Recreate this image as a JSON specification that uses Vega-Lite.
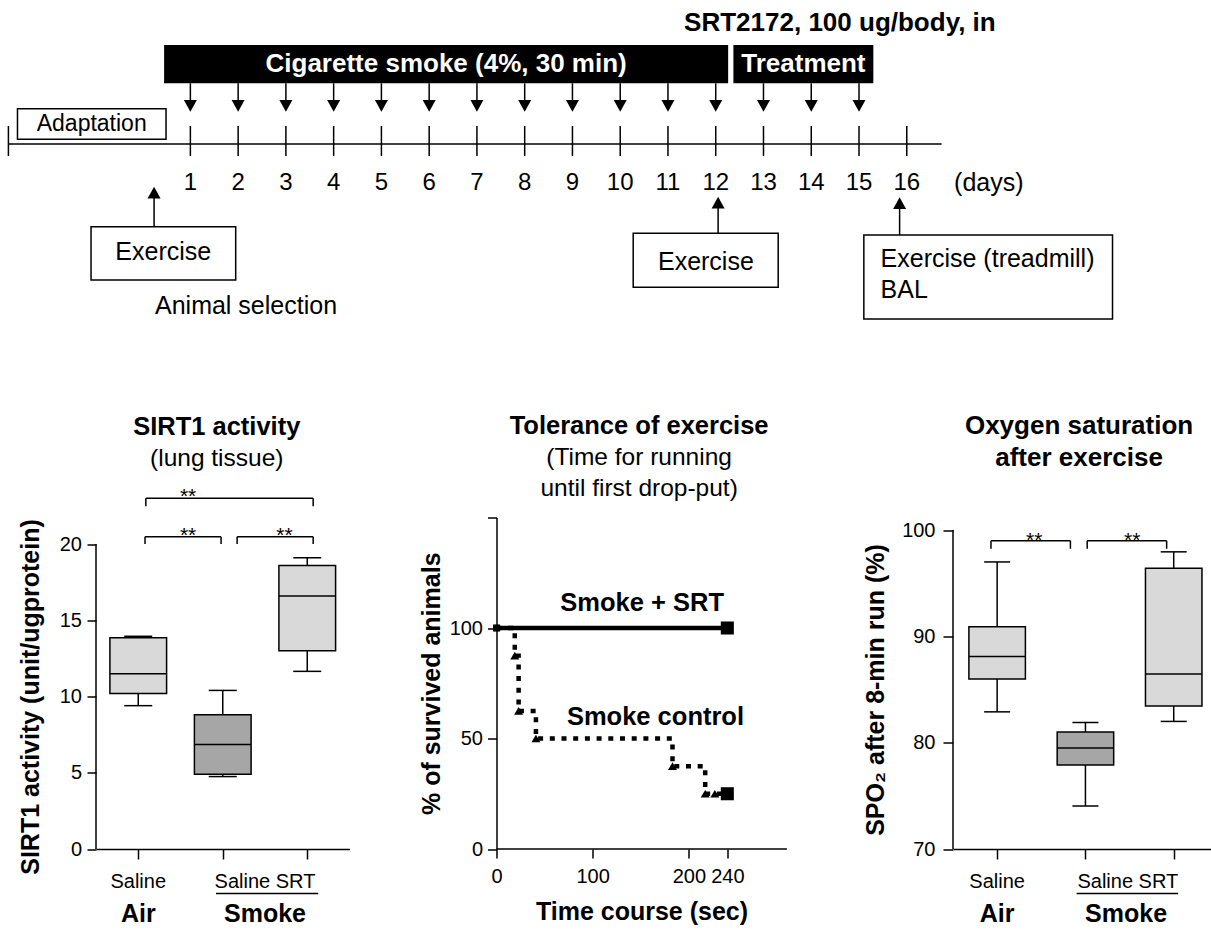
{
  "$schema": "https://vega.github.io/schema/vega-lite/v6.json",
  "background": "white",
  "padding": {"left": 7, "top": 0, "right": 0, "bottom": 0},
  "autosize": {"type": "pad"},
  "bounds": "flush",
  "spacing": 177.5,
  "config": {
    "view": {"stroke": null},
    "font": "Liberation Sans",
    "axis": {"domainColor": "black", "tickColor": "black", "domainWidth": 1.5, "tickWidth": 1.5, "labelColor": "black", "labelFontSize": 20, "grid": false, "titleColor": "black", "titleFontSize": 25, "titleFontWeight": "bold", "labelFlush": false, "labelOverlap": false},
    "title": {"color": "black", "anchor": "middle", "frame": "group", "fontSize": 25.5, "fontWeight": "bold", "subtitleColor": "black", "subtitleFontSize": 24.5, "subtitleFontWeight": "normal", "subtitleFont": "Liberation Sans"},
    "text": {"color": "black"}
  },
  "datasets": {
    "days": [{"day": 1}, {"day": 2}, {"day": 3}, {"day": 4}, {"day": 5}, {"day": 6}, {"day": 7}, {"day": 8}, {"day": 9}, {"day": 10}, {"day": 11}, {"day": 12}, {"day": 13}, {"day": 14}, {"day": 15}, {"day": 16}],
    "phases": [
      {"phase": "Cigarette smoke (4%, 30 min)", "start": 0.45, "end": 12.26},
      {"phase": "Treatment", "start": 12.37, "end": 15.3}
    ],
    "sirt1": [
      {"exposure": "Air", "treatment": "Saline", "group": "Air Saline", "idx": 1, "min": 9.4, "q1": 10.2, "median": 11.5, "q3": 13.85, "max": 13.95},
      {"exposure": "Smoke", "treatment": "Saline", "group": "Smoke Saline", "idx": 2, "min": 4.75, "q1": 4.9, "median": 6.85, "q3": 8.8, "max": 10.4},
      {"exposure": "Smoke", "treatment": "SRT", "group": "Smoke SRT", "idx": 3, "min": 11.65, "q1": 13.0, "median": 16.6, "q3": 18.6, "max": 19.1}
    ],
    "sirt1_sig": [
      {"from": 1.09, "to": 3.07, "top": 23.0, "leg": 22.47, "labelAt": 1.59, "label": "**"},
      {"from": 1.08, "to": 1.98, "top": 20.47, "leg": 20.0, "labelAt": 1.59, "label": "**"},
      {"from": 2.17, "to": 3.07, "top": 20.47, "leg": 20.0, "labelAt": 2.73, "label": "**"}
    ],
    "survival": [
      {"series": "Smoke control", "t": 0, "pct": 100},
      {"series": "Smoke control", "t": 19, "pct": 87.5},
      {"series": "Smoke control", "t": 23, "pct": 62.5},
      {"series": "Smoke control", "t": 41, "pct": 50},
      {"series": "Smoke control", "t": 183, "pct": 37.5},
      {"series": "Smoke control", "t": 217, "pct": 25},
      {"series": "Smoke control", "t": 240, "pct": 25},
      {"series": "Smoke + SRT", "t": 0, "pct": 100},
      {"series": "Smoke + SRT", "t": 240, "pct": 100}
    ],
    "survival_marks": [
      {"series": "Smoke + SRT", "t": 0, "pct": 100, "event": "start"},
      {"series": "Smoke + SRT", "t": 240, "pct": 100, "event": "end"},
      {"series": "Smoke control", "t": 0, "pct": 100, "event": "start"},
      {"series": "Smoke control", "t": 19, "pct": 87.5, "event": "step"},
      {"series": "Smoke control", "t": 23, "pct": 62.5, "event": "step"},
      {"series": "Smoke control", "t": 41, "pct": 50, "event": "step"},
      {"series": "Smoke control", "t": 183, "pct": 37.5, "event": "step"},
      {"series": "Smoke control", "t": 217, "pct": 25, "event": "step"},
      {"series": "Smoke control", "t": 227, "pct": 25, "event": "step"},
      {"series": "Smoke control", "t": 240, "pct": 25, "event": "end"}
    ],
    "spo2": [
      {"exposure": "Air", "treatment": "Saline", "group": "Air Saline", "idx": 1, "min": 82.9, "q1": 86.0, "median": 88.1, "q3": 90.9, "max": 97.0},
      {"exposure": "Smoke", "treatment": "Saline", "group": "Smoke Saline", "idx": 2, "min": 74.05, "q1": 77.9, "median": 79.5, "q3": 81.0, "max": 81.9},
      {"exposure": "Smoke", "treatment": "SRT", "group": "Smoke SRT", "idx": 3, "min": 82.0, "q1": 83.45, "median": 86.45, "q3": 96.4, "max": 97.95}
    ],
    "spo2_sig": [
      {"from": 0.93, "to": 1.83, "top": 98.99, "leg": 98.24, "labelAt": 1.42, "label": "**"},
      {"from": 2.02, "to": 2.92, "top": 98.99, "leg": 98.24, "labelAt": 2.53, "label": "**"}
    ]
  },
  "vconcat": [
    {
      "width": 1115,
      "height": 340,
      "data": {"values": [{}]},
      "layer": [
        {"mark": {"type": "rule", "color": "black", "strokeWidth": 1.5, "clip": false},
         "encoding": {"x": {"datum": -2.81, "type": "quantitative", "scale": {"domain": [-0.976, 22.37], "nice": false, "zero": false}, "axis": null}, "x2": {"datum": 16.73},
                      "y": {"datum": 0, "type": "quantitative", "scale": {"domain": [-19.6, 14.4], "nice": false, "zero": false}, "axis": null}}},
        {"mark": {"type": "rule", "color": "black", "strokeWidth": 1.5, "clip": false},
         "encoding": {"x": {"datum": -2.81, "type": "quantitative", "scale": {"domain": [-0.976, 22.37], "nice": false, "zero": false}, "axis": null},
                      "y": {"datum": -1.2, "type": "quantitative", "scale": {"domain": [-19.6, 14.4], "nice": false, "zero": false}, "axis": null}, "y2": {"datum": 1.8}}},
        {"data": {"name": "days"}, "mark": {"type": "rule", "color": "black", "strokeWidth": 1.5, "clip": false},
         "encoding": {"x": {"field": "day", "type": "quantitative", "scale": {"domain": [-0.976, 22.37], "nice": false, "zero": false}, "axis": null},
                      "y": {"datum": -1.2, "type": "quantitative", "scale": {"domain": [-19.6, 14.4], "nice": false, "zero": false}, "axis": null}, "y2": {"datum": 1.8}}},
        {"data": {"name": "days"}, "mark": {"type": "text", "fontSize": 24, "clip": false},
         "encoding": {"x": {"field": "day", "type": "quantitative", "scale": {"domain": [-0.976, 22.37], "nice": false, "zero": false}, "axis": null},
                      "y": {"datum": -3.93, "type": "quantitative", "scale": {"domain": [-19.6, 14.4], "nice": false, "zero": false}, "axis": null},
                      "text": {"field": "day", "type": "nominal"}}},
        {"data": {"name": "phases"}, "mark": {"type": "rect", "color": "black", "clip": false},
         "encoding": {"x": {"field": "start", "type": "quantitative", "scale": {"domain": [-0.976, 22.37], "nice": false, "zero": false}, "axis": null}, "x2": {"field": "end"},
                      "y": {"datum": 6.07, "type": "quantitative", "scale": {"domain": [-19.6, 14.4], "nice": false, "zero": false}, "axis": null}, "y2": {"datum": 9.9}}},
        {"data": {"name": "phases"}, "transform": [{"calculate": "(datum.start + datum.end) / 2", "as": "mid"}],
         "mark": {"type": "text", "color": "white", "fontSize": 26, "fontWeight": "bold", "clip": false},
         "encoding": {"x": {"field": "mid", "type": "quantitative", "scale": {"domain": [-0.976, 22.37], "nice": false, "zero": false}, "axis": null},
                      "y": {"datum": 8.0, "type": "quantitative", "scale": {"domain": [-19.6, 14.4], "nice": false, "zero": false}, "axis": null},
                      "text": {"field": "phase", "type": "nominal"}}},
        {"data": {"name": "days"}, "transform": [{"filter": "datum.day <= 15"}],
         "mark": {"type": "rule", "color": "black", "strokeWidth": 1.5, "clip": false},
         "encoding": {"x": {"field": "day", "type": "quantitative", "scale": {"domain": [-0.976, 22.37], "nice": false, "zero": false}, "axis": null},
                      "y": {"datum": 6.07, "type": "quantitative", "scale": {"domain": [-19.6, 14.4], "nice": false, "zero": false}, "axis": null}, "y2": {"datum": 3.7}}},
        {"data": {"name": "days"}, "transform": [{"filter": "datum.day <= 15"}],
         "mark": {"type": "point", "shape": "M-1,-1.8L1,-1.8L0,0Z", "size": 169, "filled": true, "color": "black", "opacity": 1, "strokeWidth": 0, "clip": false},
         "encoding": {"x": {"field": "day", "type": "quantitative", "scale": {"domain": [-0.976, 22.37], "nice": false, "zero": false}, "axis": null},
                      "y": {"datum": 3.23, "type": "quantitative", "scale": {"domain": [-19.6, 14.4], "nice": false, "zero": false}, "axis": null}}},
        {"mark": {"type": "text", "fontSize": 26, "fontWeight": "bold", "clip": false},
         "encoding": {"x": {"datum": 14.6, "type": "quantitative", "scale": {"domain": [-0.976, 22.37], "nice": false, "zero": false}, "axis": null},
                      "y": {"datum": 12.07, "type": "quantitative", "scale": {"domain": [-19.6, 14.4], "nice": false, "zero": false}, "axis": null},
                      "text": {"value": "SRT2172, 100 ug/body, in"}}},
        {"mark": {"type": "rect", "fill": "white", "stroke": "black", "strokeWidth": 1.5, "clip": false},
         "encoding": {"x": {"datum": -2.62, "type": "quantitative", "scale": {"domain": [-0.976, 22.37], "nice": false, "zero": false}, "axis": null}, "x2": {"datum": 0.49},
                      "y": {"datum": 0.47, "type": "quantitative", "scale": {"domain": [-19.6, 14.4], "nice": false, "zero": false}, "axis": null}, "y2": {"datum": 3.53}}},
        {"mark": {"type": "text", "fontSize": 23, "clip": false},
         "encoding": {"x": {"datum": -1.066, "type": "quantitative", "scale": {"domain": [-0.976, 22.37], "nice": false, "zero": false}, "axis": null},
                      "y": {"datum": 2.0, "type": "quantitative", "scale": {"domain": [-19.6, 14.4], "nice": false, "zero": false}, "axis": null},
                      "text": {"value": "Adaptation"}}},
        {"mark": {"type": "rule", "color": "black", "strokeWidth": 1.5, "clip": false},
         "encoding": {"x": {"datum": 0.24, "type": "quantitative", "scale": {"domain": [-0.976, 22.37], "nice": false, "zero": false}, "axis": null},
                      "y": {"datum": -8.27, "type": "quantitative", "scale": {"domain": [-19.6, 14.4], "nice": false, "zero": false}, "axis": null}, "y2": {"datum": -5.2}}},
        {"mark": {"type": "point", "shape": "M-1,1.8L1,1.8L0,0Z", "size": 169, "filled": true, "color": "black", "opacity": 1, "strokeWidth": 0, "clip": false},
         "encoding": {"x": {"datum": 0.24, "type": "quantitative", "scale": {"domain": [-0.976, 22.37], "nice": false, "zero": false}, "axis": null},
                      "y": {"datum": -4.27, "type": "quantitative", "scale": {"domain": [-19.6, 14.4], "nice": false, "zero": false}, "axis": null}}},
        {"mark": {"type": "rect", "fill": "white", "stroke": "black", "strokeWidth": 1.5, "clip": false},
         "encoding": {"x": {"datum": -1.08, "type": "quantitative", "scale": {"domain": [-0.976, 22.37], "nice": false, "zero": false}, "axis": null}, "x2": {"datum": 1.949},
                      "y": {"datum": -13.6, "type": "quantitative", "scale": {"domain": [-19.6, 14.4], "nice": false, "zero": false}, "axis": null}, "y2": {"datum": -8.27}}},
        {"mark": {"type": "text", "fontSize": 25, "clip": false},
         "encoding": {"x": {"datum": 0.433, "type": "quantitative", "scale": {"domain": [-0.976, 22.37], "nice": false, "zero": false}, "axis": null},
                      "y": {"datum": -10.83, "type": "quantitative", "scale": {"domain": [-19.6, 14.4], "nice": false, "zero": false}, "axis": null},
                      "text": {"value": "Exercise"}}},
        {"mark": {"type": "text", "fontSize": 25, "clip": false},
         "encoding": {"x": {"datum": 2.165, "type": "quantitative", "scale": {"domain": [-0.976, 22.37], "nice": false, "zero": false}, "axis": null},
                      "y": {"datum": -16.2, "type": "quantitative", "scale": {"domain": [-19.6, 14.4], "nice": false, "zero": false}, "axis": null},
                      "text": {"value": "Animal selection"}}},
        {"mark": {"type": "rule", "color": "black", "strokeWidth": 1.5, "clip": false},
         "encoding": {"x": {"datum": 12.05, "type": "quantitative", "scale": {"domain": [-0.976, 22.37], "nice": false, "zero": false}, "axis": null},
                      "y": {"datum": -8.93, "type": "quantitative", "scale": {"domain": [-19.6, 14.4], "nice": false, "zero": false}, "axis": null}, "y2": {"datum": -6.2}}},
        {"mark": {"type": "point", "shape": "M-1,1.8L1,1.8L0,0Z", "size": 169, "filled": true, "color": "black", "opacity": 1, "strokeWidth": 0, "clip": false},
         "encoding": {"x": {"datum": 12.05, "type": "quantitative", "scale": {"domain": [-0.976, 22.37], "nice": false, "zero": false}, "axis": null},
                      "y": {"datum": -5.27, "type": "quantitative", "scale": {"domain": [-19.6, 14.4], "nice": false, "zero": false}, "axis": null}}},
        {"mark": {"type": "rect", "fill": "white", "stroke": "black", "strokeWidth": 1.5, "clip": false},
         "encoding": {"x": {"datum": 10.272, "type": "quantitative", "scale": {"domain": [-0.976, 22.37], "nice": false, "zero": false}, "axis": null}, "x2": {"datum": 13.308},
                      "y": {"datum": -14.33, "type": "quantitative", "scale": {"domain": [-19.6, 14.4], "nice": false, "zero": false}, "axis": null}, "y2": {"datum": -8.93}}},
        {"mark": {"type": "text", "fontSize": 25, "clip": false},
         "encoding": {"x": {"datum": 11.794, "type": "quantitative", "scale": {"domain": [-0.976, 22.37], "nice": false, "zero": false}, "axis": null},
                      "y": {"datum": -11.77, "type": "quantitative", "scale": {"domain": [-19.6, 14.4], "nice": false, "zero": false}, "axis": null},
                      "text": {"value": "Exercise"}}},
        {"mark": {"type": "rule", "color": "black", "strokeWidth": 1.5, "clip": false},
         "encoding": {"x": {"datum": 15.85, "type": "quantitative", "scale": {"domain": [-0.976, 22.37], "nice": false, "zero": false}, "axis": null},
                      "y": {"datum": -9.1, "type": "quantitative", "scale": {"domain": [-19.6, 14.4], "nice": false, "zero": false}, "axis": null}, "y2": {"datum": -6.2}}},
        {"mark": {"type": "point", "shape": "M-1,1.8L1,1.8L0,0Z", "size": 169, "filled": true, "color": "black", "opacity": 1, "strokeWidth": 0, "clip": false},
         "encoding": {"x": {"datum": 15.85, "type": "quantitative", "scale": {"domain": [-0.976, 22.37], "nice": false, "zero": false}, "axis": null},
                      "y": {"datum": -5.33, "type": "quantitative", "scale": {"domain": [-19.6, 14.4], "nice": false, "zero": false}, "axis": null}}},
        {"mark": {"type": "rect", "fill": "white", "stroke": "black", "strokeWidth": 1.5, "clip": false},
         "encoding": {"x": {"datum": 15.101, "type": "quantitative", "scale": {"domain": [-0.976, 22.37], "nice": false, "zero": false}, "axis": null}, "x2": {"datum": 20.308},
                      "y": {"datum": -17.5, "type": "quantitative", "scale": {"domain": [-19.6, 14.4], "nice": false, "zero": false}, "axis": null}, "y2": {"datum": -9.1}}},
        {"mark": {"type": "text", "fontSize": 25, "align": "left", "clip": false},
         "encoding": {"x": {"datum": 15.451, "type": "quantitative", "scale": {"domain": [-0.976, 22.37], "nice": false, "zero": false}, "axis": null},
                      "y": {"datum": -11.53, "type": "quantitative", "scale": {"domain": [-19.6, 14.4], "nice": false, "zero": false}, "axis": null},
                      "text": {"value": "Exercise (treadmill)"}}},
        {"mark": {"type": "text", "fontSize": 25, "align": "left", "clip": false},
         "encoding": {"x": {"datum": 15.451, "type": "quantitative", "scale": {"domain": [-0.976, 22.37], "nice": false, "zero": false}, "axis": null},
                      "y": {"datum": -14.6, "type": "quantitative", "scale": {"domain": [-19.6, 14.4], "nice": false, "zero": false}, "axis": null},
                      "text": {"value": "BAL"}}},
        {"mark": {"type": "text", "fontSize": 25, "clip": false},
         "encoding": {"x": {"datum": 17.718, "type": "quantitative", "scale": {"domain": [-0.976, 22.37], "nice": false, "zero": false}, "axis": null},
                      "y": {"datum": -3.93, "type": "quantitative", "scale": {"domain": [-19.6, 14.4], "nice": false, "zero": false}, "axis": null},
                      "text": {"value": "(days)"}}}
      ]
    },
    {
      "bounds": "flush",
      "spacing": 146.5,
      "hconcat": [
        {
          "width": 253.5,
          "height": 331.5,
          "data": {"values": [{}]},
          "title": {"text": "SIRT1 activity", "subtitle": "(lung tissue)", "offset": 16, "dx": -6, "subtitlePadding": 6.3},
          "layer": [
            {"data": {"name": "sirt1"}, "mark": {"type": "rule", "color": "black", "strokeWidth": 1.5},
             "encoding": {"x": {"field": "idx", "type": "quantitative", "scale": {"domain": [0.5, 3.5], "nice": false, "zero": false, "padding": 0}, "axis": {"values": [1, 2, 3], "labels": false, "tickSize": 10, "title": null}},
                          "y": {"field": "min", "type": "quantitative", "scale": {"domain": [0, 21.74], "nice": false, "zero": false}, "axis": {"values": [0, 5, 10, 15, 20], "domain": false, "tickSize": 9, "labelPadding": 5.5, "title": "SIRT1 activity (unit/ugprotein)", "titlePadding": 15.5, "titleY": 179}},
                          "y2": {"field": "max"}}},
            {"data": {"name": "sirt1"}, "mark": {"type": "bar", "size": 56.7, "stroke": "black", "strokeWidth": 1.5, "orient": "vertical", "opacity": 1},
             "encoding": {"x": {"field": "idx", "type": "quantitative", "scale": {"domain": [0.5, 3.5], "nice": false, "zero": false, "padding": 0}},
                          "y": {"field": "q1", "type": "quantitative", "scale": {"domain": [0, 21.74], "nice": false, "zero": false}}, "y2": {"field": "q3"},
                          "fill": {"field": "group", "type": "nominal", "scale": {"domain": ["Air Saline", "Smoke Saline", "Smoke SRT"], "range": ["#d9d9d9", "#a6a6a6", "#d9d9d9"]}, "legend": null}}},
            {"data": {"name": "sirt1"}, "transform": [{"fold": ["min", "max"], "as": ["stat", "value"]}],
             "mark": {"type": "tick", "orient": "horizontal", "size": 28, "thickness": 1.5, "color": "black", "opacity": 1},
             "encoding": {"x": {"field": "idx", "type": "quantitative", "scale": {"domain": [0.5, 3.5], "nice": false, "zero": false, "padding": 0}},
                          "y": {"field": "value", "type": "quantitative", "scale": {"domain": [0, 21.74], "nice": false, "zero": false}}}},
            {"data": {"name": "sirt1"},
             "mark": {"type": "tick", "orient": "horizontal", "size": 56.7, "thickness": 1.5, "color": "black", "opacity": 1},
             "encoding": {"x": {"field": "idx", "type": "quantitative", "scale": {"domain": [0.5, 3.5], "nice": false, "zero": false, "padding": 0}},
                          "y": {"field": "median", "type": "quantitative", "scale": {"domain": [0, 21.74], "nice": false, "zero": false}}}},
            {"mark": {"type": "rule", "color": "black", "strokeWidth": 1.5},
             "encoding": {"x": {"datum": 0.5, "type": "quantitative", "scale": {"domain": [0.5, 3.5], "nice": false, "zero": false, "padding": 0}},
                          "y": {"datum": 0, "type": "quantitative", "scale": {"domain": [0, 21.74], "nice": false, "zero": false}}, "y2": {"datum": 20}}},
            {"data": {"name": "sirt1_sig"}, "mark": {"type": "rule", "color": "black", "strokeWidth": 1.5, "clip": false},
             "encoding": {"x": {"field": "from", "type": "quantitative", "scale": {"domain": [0.5, 3.5], "nice": false, "zero": false, "padding": 0}}, "x2": {"field": "to"},
                          "y": {"field": "top", "type": "quantitative", "scale": {"domain": [0, 21.74], "nice": false, "zero": false}}}},
            {"data": {"name": "sirt1_sig"}, "transform": [{"fold": ["from", "to"], "as": ["end", "pos"]}],
             "mark": {"type": "rule", "color": "black", "strokeWidth": 1.5, "clip": false},
             "encoding": {"x": {"field": "pos", "type": "quantitative", "scale": {"domain": [0.5, 3.5], "nice": false, "zero": false, "padding": 0}},
                          "y": {"field": "leg", "type": "quantitative", "scale": {"domain": [0, 21.74], "nice": false, "zero": false}}, "y2": {"field": "top"}}},
            {"data": {"name": "sirt1_sig"}, "mark": {"type": "text", "fontSize": 21, "baseline": "alphabetic", "dy": 5, "clip": false},
             "encoding": {"x": {"field": "labelAt", "type": "quantitative", "scale": {"domain": [0.5, 3.5], "nice": false, "zero": false, "padding": 0}},
                          "y": {"field": "top", "type": "quantitative", "scale": {"domain": [0, 21.74], "nice": false, "zero": false}},
                          "text": {"field": "label", "type": "nominal"}}},
            {"mark": {"type": "text", "fontSize": 20, "clip": false},
             "encoding": {"x": {"datum": 1, "type": "quantitative", "scale": {"domain": [0.5, 3.5], "nice": false, "zero": false, "padding": 0}},
                          "y": {"datum": -2.16, "type": "quantitative", "scale": {"domain": [0, 21.74], "nice": false, "zero": false}},
                          "text": {"value": "Saline"}}},
            {"mark": {"type": "text", "fontSize": 20, "clip": false},
             "encoding": {"x": {"datum": 2.5, "type": "quantitative", "scale": {"domain": [0.5, 3.5], "nice": false, "zero": false, "padding": 0}},
                          "y": {"datum": -2.16, "type": "quantitative", "scale": {"domain": [0, 21.74], "nice": false, "zero": false}},
                          "text": {"value": "Saline SRT"}}},
            {"mark": {"type": "rule", "color": "black", "strokeWidth": 1.5, "clip": false},
             "encoding": {"x": {"datum": 1.92, "type": "quantitative", "scale": {"domain": [0.5, 3.5], "nice": false, "zero": false, "padding": 0}}, "x2": {"datum": 3.13},
                          "y": {"datum": -2.92, "type": "quantitative", "scale": {"domain": [0, 21.74], "nice": false, "zero": false}}}},
            {"mark": {"type": "text", "fontSize": 25, "fontWeight": "bold", "clip": false},
             "encoding": {"x": {"datum": 1, "type": "quantitative", "scale": {"domain": [0.5, 3.5], "nice": false, "zero": false, "padding": 0}},
                          "y": {"datum": -4.26, "type": "quantitative", "scale": {"domain": [0, 21.74], "nice": false, "zero": false}},
                          "text": {"value": "Air"}}},
            {"mark": {"type": "text", "fontSize": 25, "fontWeight": "bold", "clip": false},
             "encoding": {"x": {"datum": 2.5, "type": "quantitative", "scale": {"domain": [0.5, 3.5], "nice": false, "zero": false, "padding": 0}},
                          "y": {"datum": -4.26, "type": "quantitative", "scale": {"domain": [0, 21.74], "nice": false, "zero": false}},
                          "text": {"value": "Smoke"}}}
          ]
        },
        {
          "width": 309.2,
          "height": 331.5,
          "data": {"values": [{}]},
          "title": {"text": "Tolerance of exercise", "subtitle": ["(Time for running", "until first drop-put)"], "offset": 7.3, "dx": -12, "subtitleLineHeight": 30.5, "subtitlePadding": 6.3},
          "layer": [
            {"data": {"name": "survival"},
             "mark": {"type": "line", "interpolate": "step-after", "color": "black", "strokeWidth": 4.5, "strokeCap": "butt", "clip": false},
             "encoding": {"x": {"field": "t", "type": "quantitative", "scale": {"domain": [0, 321.5], "nice": false, "zero": false}, "axis": {"values": [0, 100, 200, 240], "domain": false, "tickSize": 9, "labelPadding": 8.5, "title": "Time course (sec)", "titlePadding": 13, "titleX": 145}},
                          "y": {"field": "pct", "type": "quantitative", "scale": {"domain": [0, 150], "nice": false, "zero": false}, "axis": {"values": [0, 50, 100, 150], "labelExpr": "datum.value == 150 ? '' : datum.label", "tickSize": 9, "labelPadding": 5, "title": "% of survived animals", "titlePadding": 5}},
                          "detail": {"field": "series", "type": "nominal"},
                          "strokeDash": {"field": "series", "type": "nominal", "scale": {"domain": ["Smoke + SRT", "Smoke control"], "range": [[1, 0], [5, 6.7]]}, "legend": null}}},
            {"data": {"name": "survival_marks"}, "transform": [{"filter": "datum.event == 'start'"}],
             "mark": {"type": "point", "shape": "square", "size": 45, "filled": true, "color": "black", "opacity": 1, "strokeWidth": 0, "clip": false},
             "encoding": {"x": {"field": "t", "type": "quantitative", "scale": {"domain": [0, 321.5], "nice": false, "zero": false}},
                          "y": {"field": "pct", "type": "quantitative", "scale": {"domain": [0, 150], "nice": false, "zero": false}}}},
            {"data": {"name": "survival_marks"}, "transform": [{"filter": "datum.event == 'step'"}],
             "mark": {"type": "point", "shape": "triangle-up", "size": 80, "filled": true, "color": "black", "opacity": 1, "strokeWidth": 0, "clip": false},
             "encoding": {"x": {"field": "t", "type": "quantitative", "scale": {"domain": [0, 321.5], "nice": false, "zero": false}},
                          "y": {"field": "pct", "type": "quantitative", "scale": {"domain": [0, 150], "nice": false, "zero": false}}}},
            {"data": {"name": "survival_marks"}, "transform": [{"filter": "datum.event == 'end'"}],
             "mark": {"type": "point", "shape": "square", "size": 170, "filled": true, "color": "black", "opacity": 1, "strokeWidth": 0, "clip": false},
             "encoding": {"x": {"field": "t", "type": "quantitative", "scale": {"domain": [0, 321.5], "nice": false, "zero": false}},
                          "y": {"field": "pct", "type": "quantitative", "scale": {"domain": [0, 150], "nice": false, "zero": false}}}},
            {"mark": {"type": "rule", "color": "black", "strokeWidth": 1.5},
             "encoding": {"x": {"datum": 0, "type": "quantitative", "scale": {"domain": [0, 321.5], "nice": false, "zero": false}}, "x2": {"datum": 302},
                          "y": {"datum": 0, "type": "quantitative", "scale": {"domain": [0, 150], "nice": false, "zero": false}}}},
            {"mark": {"type": "text", "fontSize": 25.5, "fontWeight": "bold", "clip": false},
             "encoding": {"x": {"datum": 151.5, "type": "quantitative", "scale": {"domain": [0, 321.5], "nice": false, "zero": false}},
                          "y": {"datum": 111.3, "type": "quantitative", "scale": {"domain": [0, 150], "nice": false, "zero": false}},
                          "text": {"value": "Smoke + SRT"}}},
            {"mark": {"type": "text", "fontSize": 25.5, "fontWeight": "bold", "clip": false},
             "encoding": {"x": {"datum": 165.3, "type": "quantitative", "scale": {"domain": [0, 321.5], "nice": false, "zero": false}},
                          "y": {"datum": 59.8, "type": "quantitative", "scale": {"domain": [0, 150], "nice": false, "zero": false}},
                          "text": {"value": "Smoke control"}}}
          ]
        },
        {
          "width": 259.3,
          "height": 331.5,
          "data": {"values": [{}]},
          "title": {"text": ["Oxygen saturation", "after exercise"], "fontSize": 26, "lineHeight": 32.3, "offset": 46, "dx": -3.6},
          "layer": [
            {"data": {"name": "spo2"}, "mark": {"type": "rule", "color": "black", "strokeWidth": 1.5},
             "encoding": {"x": {"field": "idx", "type": "quantitative", "scale": {"domain": [0.5, 3.437], "nice": false, "zero": false, "padding": 0}, "axis": {"values": [1, 2, 3], "labels": false, "tickSize": 10, "title": null}},
                          "y": {"field": "min", "type": "quantitative", "scale": {"domain": [70, 101.18], "nice": false, "zero": false}, "axis": {"values": [70, 80, 90, 100], "domain": false, "tickSize": 10, "labelPadding": 8, "title": "SPO₂ after 8-min run (%)", "titlePadding": 13.5, "titleY": 172}},
                          "y2": {"field": "max"}}},
            {"data": {"name": "spo2"}, "mark": {"type": "bar", "size": 56.5, "stroke": "black", "strokeWidth": 1.5, "orient": "vertical", "opacity": 1},
             "encoding": {"x": {"field": "idx", "type": "quantitative", "scale": {"domain": [0.5, 3.437], "nice": false, "zero": false, "padding": 0}},
                          "y": {"field": "q1", "type": "quantitative", "scale": {"domain": [70, 101.18], "nice": false, "zero": false}}, "y2": {"field": "q3"},
                          "fill": {"field": "group", "type": "nominal", "scale": {"domain": ["Air Saline", "Smoke Saline", "Smoke SRT"], "range": ["#d9d9d9", "#808080", "#d9d9d9"]}, "legend": null}}},
            {"data": {"name": "spo2"}, "transform": [{"fold": ["min", "max"], "as": ["stat", "value"]}],
             "mark": {"type": "tick", "orient": "horizontal", "size": 26, "thickness": 1.5, "color": "black", "opacity": 1},
             "encoding": {"x": {"field": "idx", "type": "quantitative", "scale": {"domain": [0.5, 3.437], "nice": false, "zero": false, "padding": 0}},
                          "y": {"field": "value", "type": "quantitative", "scale": {"domain": [70, 101.18], "nice": false, "zero": false}}}},
            {"data": {"name": "spo2"},
             "mark": {"type": "tick", "orient": "horizontal", "size": 56.5, "thickness": 1.5, "color": "black", "opacity": 1},
             "encoding": {"x": {"field": "idx", "type": "quantitative", "scale": {"domain": [0.5, 3.437], "nice": false, "zero": false, "padding": 0}},
                          "y": {"field": "median", "type": "quantitative", "scale": {"domain": [70, 101.18], "nice": false, "zero": false}}}},
            {"mark": {"type": "rule", "color": "black", "strokeWidth": 1.5},
             "encoding": {"x": {"datum": 0.5, "type": "quantitative", "scale": {"domain": [0.5, 3.437], "nice": false, "zero": false, "padding": 0}},
                          "y": {"datum": 70, "type": "quantitative", "scale": {"domain": [70, 101.18], "nice": false, "zero": false}}, "y2": {"datum": 100}}},
            {"data": {"name": "spo2_sig"}, "mark": {"type": "rule", "color": "black", "strokeWidth": 1.5, "clip": false},
             "encoding": {"x": {"field": "from", "type": "quantitative", "scale": {"domain": [0.5, 3.437], "nice": false, "zero": false, "padding": 0}}, "x2": {"field": "to"},
                          "y": {"field": "top", "type": "quantitative", "scale": {"domain": [70, 101.18], "nice": false, "zero": false}}}},
            {"data": {"name": "spo2_sig"}, "transform": [{"fold": ["from", "to"], "as": ["end", "pos"]}],
             "mark": {"type": "rule", "color": "black", "strokeWidth": 1.5, "clip": false},
             "encoding": {"x": {"field": "pos", "type": "quantitative", "scale": {"domain": [0.5, 3.437], "nice": false, "zero": false, "padding": 0}},
                          "y": {"field": "leg", "type": "quantitative", "scale": {"domain": [70, 101.18], "nice": false, "zero": false}}, "y2": {"field": "top"}}},
            {"data": {"name": "spo2_sig"}, "mark": {"type": "text", "fontSize": 21, "baseline": "alphabetic", "dy": 6, "clip": false},
             "encoding": {"x": {"field": "labelAt", "type": "quantitative", "scale": {"domain": [0.5, 3.437], "nice": false, "zero": false, "padding": 0}},
                          "y": {"field": "top", "type": "quantitative", "scale": {"domain": [70, 101.18], "nice": false, "zero": false}},
                          "text": {"field": "label", "type": "nominal"}}},
            {"mark": {"type": "text", "fontSize": 20, "clip": false},
             "encoding": {"x": {"datum": 1, "type": "quantitative", "scale": {"domain": [0.5, 3.437], "nice": false, "zero": false, "padding": 0}},
                          "y": {"datum": 66.9, "type": "quantitative", "scale": {"domain": [70, 101.18], "nice": false, "zero": false}},
                          "text": {"value": "Saline"}}},
            {"mark": {"type": "text", "fontSize": 20, "clip": false},
             "encoding": {"x": {"datum": 2.48, "type": "quantitative", "scale": {"domain": [0.5, 3.437], "nice": false, "zero": false, "padding": 0}},
                          "y": {"datum": 66.9, "type": "quantitative", "scale": {"domain": [70, 101.18], "nice": false, "zero": false}},
                          "text": {"value": "Saline SRT"}}},
            {"mark": {"type": "rule", "color": "black", "strokeWidth": 1.5, "clip": false},
             "encoding": {"x": {"datum": 1.9, "type": "quantitative", "scale": {"domain": [0.5, 3.437], "nice": false, "zero": false, "padding": 0}}, "x2": {"datum": 3.05},
                          "y": {"datum": 65.81, "type": "quantitative", "scale": {"domain": [70, 101.18], "nice": false, "zero": false}}}},
            {"mark": {"type": "text", "fontSize": 25, "fontWeight": "bold", "clip": false},
             "encoding": {"x": {"datum": 1, "type": "quantitative", "scale": {"domain": [0.5, 3.437], "nice": false, "zero": false, "padding": 0}},
                          "y": {"datum": 63.89, "type": "quantitative", "scale": {"domain": [70, 101.18], "nice": false, "zero": false}},
                          "text": {"value": "Air"}}},
            {"mark": {"type": "text", "fontSize": 25, "fontWeight": "bold", "clip": false},
             "encoding": {"x": {"datum": 2.46, "type": "quantitative", "scale": {"domain": [0.5, 3.437], "nice": false, "zero": false, "padding": 0}},
                          "y": {"datum": 63.89, "type": "quantitative", "scale": {"domain": [70, 101.18], "nice": false, "zero": false}},
                          "text": {"value": "Smoke"}}}
          ]
        }
      ]
    }
  ]
}
